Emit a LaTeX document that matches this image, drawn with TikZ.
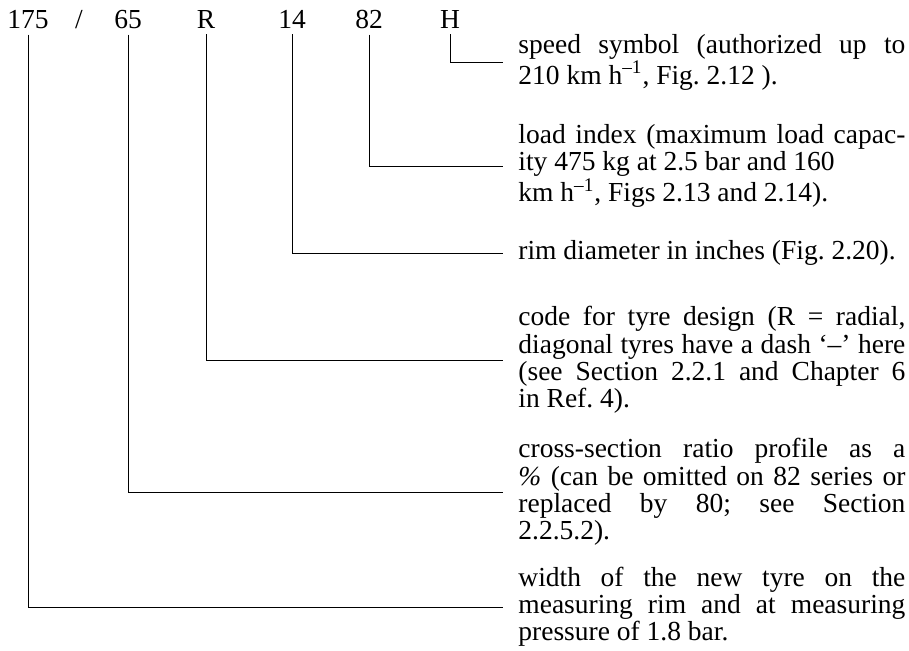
\documentclass[tikz,border=0pt]{standalone}
\usepackage{fontspec}
\setmainfont{Liberation Serif}
\frenchspacing
\newcommand{\kmh}{km h\textsuperscript{--1}}
\tikzset{
  txt/.style={font=\fontsize{13.75pt}{13.6pt}\selectfont},
  code/.style={txt, anchor=base, inner xsep=0pt, inner ysep=3pt},
  desc/.style={txt, anchor=west, align=justify, text width=193.5pt, inner xsep=7.5pt, inner ysep=0pt},
  leader/.style={line width=0.5pt}
}
\begin{document}
\begin{tikzpicture}[x=0.5pt,y=-0.5pt]
  \useasboundingbox (0,0) rectangle (909,650);
  % tyre marking
  \node[code] (w) at (28,28) {175};
  \node[code] (slash) at (79,28) {/};
  \node[code] (ratio) at (128,28) {65};
  \node[code] (design) at (206,28) {R};
  \node[code] (rim) at (292,28) {14};
  \node[code] (load) at (369,28) {82};
  \node[code] (speed) at (450,28) {H};
  % explanations
  \node[desc] (speedtxt) at (503,62) {speed symbol (authorized up to\linebreak 210 \kmh, Fig.~2.12 ).};
  \node[desc] (loadtxt) at (503,166) {load index (maximum load capac-\linebreak ity 475 kg at 2.5 bar and 160\newline \kmh, Figs 2.13 and 2.14).};
  \node[desc] (rimtxt) at (503,253) {rim diameter in inches (Fig.~2.20).};
  \node[desc] (designtxt) at (503,360) {code for tyre design (R = radial,\linebreak diagonal tyres have a dash ‘--’ here\linebreak (see Section 2.2.1 and Chapter 6\linebreak in Ref.~4).};
  \node[desc] (ratiotxt) at (503,492) {cross-section ratio profile as a\linebreak \textit{\%} (can be omitted on 82 series or\linebreak replaced by 80; see Section\linebreak 2.2.5.2).};
  \node[desc] (wtxt) at (503,607) {width of the new tyre on the\linebreak measuring rim and at measuring\linebreak pressure of 1.8 bar.};
  % leaders
  \draw[leader] (speed.south) |- (speedtxt.west);
  \draw[leader] (load.south) |- (loadtxt.west);
  \draw[leader] (rim.south) |- (rimtxt.west);
  \draw[leader] (design.south) |- (designtxt.west);
  \draw[leader] (ratio.south) |- (ratiotxt.west);
  \draw[leader] (w.south) |- (wtxt.west);
\end{tikzpicture}
\end{document}
